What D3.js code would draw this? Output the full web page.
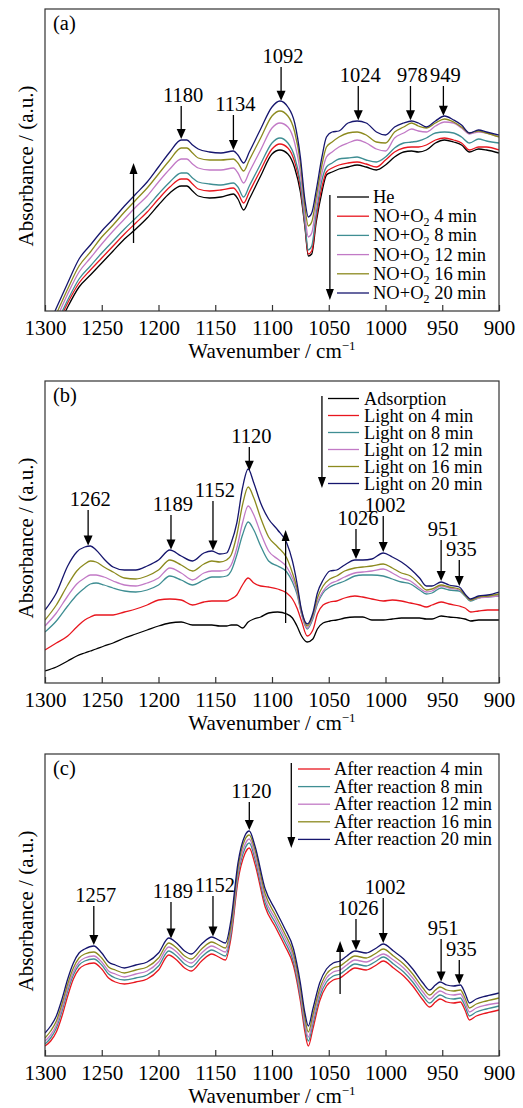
<!DOCTYPE html>
<html><head><meta charset="utf-8">
<script src="https://cdn.jsdelivr.net/npm/d3@7"></script>
<style>
body{margin:0;background:#fff}
text{font-family:"Liberation Serif","Times New Roman",serif;fill:#000}
</style>
</head><body>
<svg id="chart" width="523" height="1108"></svg>
<script>
// ---------------- DATA ----------------
const wavenumberTicks = [1300,1250,1200,1150,1100,1050,1000,950,900];

// Panel (a): NO + O2 adsorption
const wnA = [1300,1290,1280,1270,1260,1250,1240,1230,1220,1210,1200,1190,1180,1175,1170,1165,1155,1145,1134,1130,1125,1120,1110,1100,1093,1086,1080,1075,1071,1068,1065,1061,1056,1052,1047,1041,1033,1025,1017,1008,1000,992,984,977,971,964,956,948,940,933,926,918,911,900];
const aHe    = [-45,-20,4,24,36,48,60,72,82,93,106,118,125,125,120,115,113,114,117,112,101,112,135,157,161,157,143,119,84,55,57,89,119,136,139,142,144,146,144,141,146,154,159,160,159,161,168,171,169,166,159,162,161,158];
const aNO4   = [-41,-16,8,28,41,53,65,77,88,99,112,124,132,132,127,122,120,121,123,118,108,119,141,162,167,163,149,124,86,57,60,93,124,139,143,146,148,149,147,144,151,159,163,164,164,166,171,173,171,168,161,164,164,161];
const aNO8   = [-38,-13,11,32,45,58,70,82,93,104,117,129,138,138,133,129,127,126,128,124,114,125,147,168,173,168,154,128,88,61,65,98,131,144,148,152,153,154,151,149,154,163,168,169,170,173,178,179,178,174,168,172,170,168];
const aNO12  = [-33,-8,17,39,53,67,80,92,104,115,129,142,152,152,147,143,141,141,143,138,128,139,161,183,188,184,168,138,96,74,78,106,138,154,159,164,168,171,168,162,160,173,178,182,180,179,185,189,188,183,177,179,178,174];
const aNO16  = [-28,-3,22,45,59,74,86,99,111,123,137,151,163,163,158,153,151,151,152,148,140,151,173,195,200,195,179,148,104,85,89,114,146,164,169,174,178,179,176,169,168,179,184,188,185,183,188,192,189,184,178,180,178,174];
const aNO20  = [-23,3,28,52,66,80,92,105,117,129,144,159,171,171,166,162,159,158,160,156,148,159,182,204,210,204,188,154,111,94,98,121,154,174,179,180,188,190,188,179,176,184,188,190,188,184,190,195,191,186,178,181,179,176];
const namesA = ["He","NO+O₂ 4 min","NO+O₂ 8 min","NO+O₂ 12 min","NO+O₂ 16 min","NO+O₂ 20 min"];
const peaksA = [1180,1134,1092,1024,978,949];
const peakLevelsA = [205,196,244,225,225,225];

// Panel (b): light on
const wnB = [1300,1290,1280,1272,1265,1260,1255,1248,1240,1230,1220,1210,1200,1190,1180,1170,1160,1153,1146,1140,1136,1131,1126,1121,1116,1110,1103,1095,1087,1082,1078,1074,1069,1064,1060,1055,1049,1043,1036,1027,1020,1012,1002,994,986,978,970,964,959,951,944,935,930,925,918,910,900];
const bAds   = [12,16,22,27,30,32,34,37,40,45,49,53,57,60,61,58,58,58,57,57,58,58,55,61,64,66,70,71,69,65,57,47,41,44,54,60,62,63,65,66,66,63,63,64,65,65,65,64,64,67,66,65,64,62,63,63,63];
const bL4    = [33,40,47,56,63,66,68,68,68,71,74,78,83,84,83,78,81,82,82,82,84,88,98,105,100,97,96,94,90,84,75,62,47,53,69,78,81,82,85,87,86,84,82,83,82,80,78,76,78,81,79,77,75,71,72,73,73];
const bL8    = [51,62,77,88,95,99,100,98,95,92,91,93,98,107,103,98,103,106,106,107,112,128,148,161,153,137,122,117,111,101,89,69,54,64,79,90,96,99,102,107,108,108,107,104,101,99,93,89,90,95,93,92,87,82,85,86,87];
const bL12   = [57,70,87,99,105,108,108,106,102,98,97,100,105,115,110,103,110,112,112,113,118,135,160,177,168,150,132,124,116,105,92,70,55,66,81,92,99,102,106,110,111,112,114,110,105,102,95,91,92,97,95,93,88,83,85,86,87];
const bL16   = [63,78,98,112,119,122,121,116,111,105,104,107,113,123,118,112,119,122,121,123,128,148,178,196,185,165,146,136,125,110,95,72,57,68,85,97,104,107,112,115,116,117,119,115,110,107,99,93,94,98,96,94,88,83,86,87,89];
const bL20   = [73,90,117,131,136,137,133,124,116,113,113,117,123,133,127,122,130,132,129,130,140,160,195,214,200,180,164,153,140,122,100,73,59,70,90,103,112,113,118,123,123,124,130,126,121,114,105,97,97,101,98,96,89,84,87,88,91];
const namesB = ["Adsorption","Light on 4 min","Light on 8 min","Light on 12 min","Light on 16 min","Light on 20 min"];
const peaksB = [1262,1189,1152,1120,1026,1002,951,935];
const peakLevelsB = [173,168,182,236,154,167,143,123];

// Panel (c): after reaction
const wnC = [1300,1295,1290,1285,1280,1275,1270,1265,1257,1250,1244,1238,1230,1220,1210,1200,1191,1184,1177,1171,1162,1153,1147,1141,1136,1130,1124,1120,1115,1106,1097,1089,1081,1075,1071,1068,1064,1058,1052,1046,1040,1034,1027,1017,1008,1002,993,984,976,967,961,956,952,946,940,934,930,926,920,911,900];
const cR4    = [10,15,24,40,60,77,87,91,93,87,78,74,72,74,77,86,101,96,88,85,95,102,99,96,119,175,202,208,192,149,129,111,90,55,24,10,27,55,70,76,78,83,88,86,91,95,88,80,70,56,49,54,57,54,53,54,46,36,40,43,46];
const cR8    = [12,18,28,45,65,81,91,95,97,91,82,78,76,78,81,90,105,100,92,89,99,106,103,100,123,180,207,213,197,153,133,115,94,59,29,15,32,59,74,80,82,87,92,90,95,99,92,84,74,60,53,58,61,58,57,58,50,40,44,47,50];
const cR12   = [15,21,31,48,68,84,94,98,100,94,85,82,79,82,85,94,109,104,96,93,103,110,107,104,127,184,211,217,201,157,137,119,98,63,33,19,36,63,78,84,86,91,96,94,99,102,96,88,78,64,57,62,65,62,61,62,54,44,48,51,53];
const cR16   = [18,25,35,52,72,88,98,102,104,98,89,86,83,86,89,98,113,108,100,97,107,114,111,108,131,188,216,221,206,162,141,123,102,68,38,24,41,67,82,88,90,95,100,98,103,107,100,92,82,68,61,66,69,66,65,66,58,48,52,55,58];
const cR20   = [23,30,40,57,77,93,103,107,110,103,94,91,88,91,94,103,118,113,105,102,112,119,116,113,137,193,220,225,210,167,146,128,107,73,43,30,47,73,87,93,95,100,105,103,108,112,105,97,87,73,66,71,74,71,70,71,63,53,57,60,63];
const namesC = ["After reaction 4 min","After reaction 8 min","After reaction 12 min","After reaction 16 min","After reaction 20 min"];
const peaksC = [1257,1189,1152,1120,1026,1002,951,935];
const peakLevelsC = [150,154,160,254,137,158,117,96];

// trend arrows (wavenumber, from level, to level) in a.u.
const trendA = [1222,68,148], legendArrowA = [1049,116,11];
const trendB = [1088,60,153], legendArrowB = [1056,287,195];
const trendC = [1040,62,115], legendArrowC = [1083,293,208];

// ---------------- STYLE / LAYOUT ----------------
const colors6 = ["#000000","#e8161e","#3f8e93","#c27ac6","#8c8a1e","#16166e"];
const colors5 = colors6.slice(1);

const panels = [
  {label:"(a)", top:9, wn:wnA, series:[aHe,aNO4,aNO8,aNO12,aNO16,aNO20], names:namesA, colors:colors6,
   peaks:peaksA, levels:peakLevelsA, trend:trendA, legArrow:legendArrowA,
   leg:{x1:337,x2:369,tx:373,y0:188,dy:19.2,fs:18.5}},
  {label:"(b)", top:381, wn:wnB, series:[bAds,bL4,bL8,bL12,bL16,bL20], names:namesB, colors:colors6,
   peaks:peaksB, levels:peakLevelsB, trend:trendB, legArrow:legendArrowB,
   leg:{x1:328,x2:359,tx:364,y0:17.5,dy:17,fs:18.3}},
  {label:"(c)", top:754, wn:wnC, series:[cR4,cR8,cR12,cR16,cR20], names:namesC, colors:colors5,
   peaks:peaksC, levels:peakLevelsC, trend:trendC, legArrow:legendArrowC,
   leg:{x1:298,x2:330,tx:334,y0:15,dy:17.6,fs:18.3}}
];

const plotL = 45, plotR = 499, plotH = 302;
const svg = d3.select("#chart");
const x = d3.scaleLinear().domain([1300,900]).range([plotL, plotR]);

function interp(wn, vals, w){
  for(let i=0;i<wn.length-1;i++){
    if(w<=wn[i] && w>=wn[i+1]){
      const t=(wn[i]-w)/(wn[i]-wn[i+1]);
      return vals[i]+(vals[i+1]-vals[i])*t;
    }
  }
  return vals[vals.length-1];
}

function arrow(g, px, y1, y2, headL, headW){
  const dir = y2>y1 ? 1 : -1;
  g.append("line").attr("x1",px).attr("x2",px).attr("y1",y1).attr("y2",y2-dir*headL*0.8)
    .attr("stroke","#000").attr("stroke-width",1.3);
  g.append("path").attr("d",`M${px},${y2} L${px-headW/2},${y2-dir*headL} L${px+headW/2},${y2-dir*headL} Z`)
    .attr("fill","#000");
}

function richText(sel, str){
  const parts = str.split("₂");
  parts.forEach((p,i)=>{
    if(i>0){
      sel.append("tspan").attr("font-size","0.65em").attr("dy",4).text("2");
      sel.append("tspan").attr("dy",-4).text(p);
    } else sel.append("tspan").text(p);
  });
}

panels.forEach((p,pi)=>{
  const g = svg.append("g").attr("transform",`translate(0,${p.top})`);
  const y = d3.scaleLinear().domain([0,302]).range([plotH,0]);

  g.append("clipPath").attr("id","clip"+pi).append("rect")
    .attr("x",plotL).attr("y",0).attr("width",plotR-plotL).attr("height",plotH);

  const line = d3.line().x((d,i)=>x(p.wn[i])).y(d=>y(d)).curve(d3.curveMonotoneX);
  const cg = g.append("g").attr("clip-path",`url(#clip${pi})`);
  p.series.forEach((s,si)=>{
    cg.append("path").datum(s).attr("d",line).attr("fill","none")
      .attr("stroke",p.colors[si]).attr("stroke-width",1.3).attr("stroke-linejoin","round");
  });

  // frame
  g.append("rect").attr("x",plotL).attr("y",0).attr("width",plotR-plotL).attr("height",plotH)
    .attr("fill","none").attr("stroke","#333").attr("stroke-width",1.2);

  // x axis
  const axg = g.append("g").attr("transform",`translate(0,${plotH})`)
    .call(d3.axisBottom(x).tickValues(wavenumberTicks).tickSize(-6).tickSizeOuter(0).tickFormat(d3.format("d")));
  axg.select(".domain").remove();
  axg.attr("font-family",null).attr("font-size",null);
  axg.selectAll(".tick line").attr("stroke","#333").attr("stroke-width",1.2);
  axg.selectAll(".tick text").attr("y",24).attr("dy",null).attr("font-size",21).attr("fill","#000");

  // axis titles
  const xt = g.append("text").attr("x",(plotL+plotR)/2).attr("y",plotH+47)
    .attr("text-anchor","middle").attr("font-size",21);
  xt.append("tspan").text("Wavenumber / cm");
  xt.append("tspan").attr("font-size",13).attr("dy",-8).text("−1");
  g.append("text").attr("transform",`translate(33,${plotH/2+6}) rotate(-90)`)
    .attr("text-anchor","middle").attr("font-size",21).text("Absorbance / (a.u.)");

  // panel label
  g.append("text").attr("x",53).attr("y",21).attr("font-size",20.5).text(p.label);

  // peak annotations
  const top = p.series[p.series.length-1];
  p.peaks.forEach((w,i)=>{
    const px = x(w);
    const tip = y(interp(p.wn, top, w)) - 1;
    const tail = y(p.levels[i]);
    arrow(g, px, tail, tip, 10, 9);
    g.append("text").attr("x",px+2).attr("y",tail-4.5).attr("text-anchor","middle")
      .attr("font-size",20.5).text(String(w));
  });

  // trend arrows
  arrow(g, x(p.trend[0]), y(p.trend[1]), y(p.trend[2]), 11, 8);
  arrow(g, x(p.legArrow[0]), y(p.legArrow[1]), y(p.legArrow[2]), 11, 8);

  // legend
  p.names.forEach((n,i)=>{
    const ry = p.leg.y0 + i*p.leg.dy;
    g.append("line").attr("x1",p.leg.x1).attr("x2",p.leg.x2).attr("y1",ry).attr("y2",ry)
      .attr("stroke",p.colors[i]).attr("stroke-width",1.3);
    const t = g.append("text").attr("x",p.leg.tx).attr("y",ry+6).attr("font-size",p.leg.fs);
    richText(t, n);
  });
});
</script>
</body></html>
